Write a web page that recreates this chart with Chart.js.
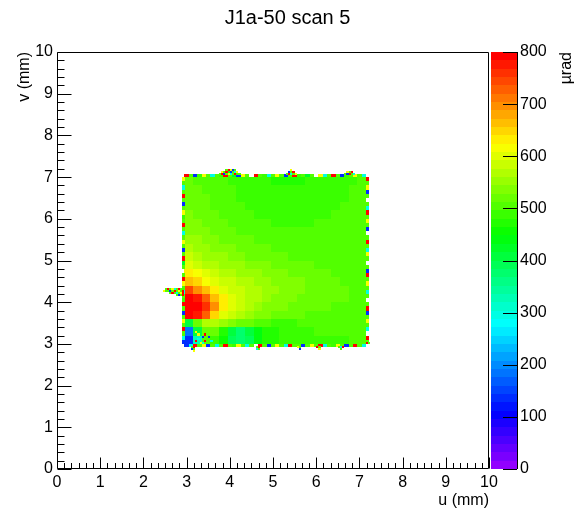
<!DOCTYPE html>
<html><head><meta charset="utf-8">
<script src="https://cdn.jsdelivr.net/npm/chart.js@4/dist/chart.umd.min.js"></script>
<style>html,body{margin:0;padding:0;background:#fff;overflow:hidden}</style>
</head><body>
<canvas id="c" width="575" height="522"></canvas>
<script>
// ---------- text ----------
const chartTitle = 'J1a-50 scan 5';
const xTitle = 'u (mm)';
const yTitle = 'v (mm)';
const zTitle = 'µrad';

// ---------- axes ----------
const xRange = [0, 10];
const yRange = [0, 10];
const zRange = [0, 800];
const zLevels = 50;

// ---------- main map (0.2 mm cells) ----------
const cellSize = 0.2;
const uCenters = [3.05,3.25,3.45,3.65,3.85,4.05,4.25,4.45,4.65,4.85,5.05,5.25,5.45,5.65,5.85,6.05,6.25,6.45,6.65,6.85,7.05];
const vCenters = [6.9,6.7,6.5,6.3,6.1,5.9,5.7,5.5,5.3,5.1,4.9,4.7,4.5,4.3,4.1,3.9,3.7,3.5,3.3,3.1];
const mapRows = [
  [514,511,507,503,499,495,491,487,484,481,479,478,478,479,481,483,486,488,491,494,497],
  [517,514,509,505,501,497,493,489,486,483,481,480,480,481,483,485,488,490,493,496,498],
  [520,517,512,508,503,499,495,491,488,486,484,483,483,484,486,488,490,492,495,497,499],
  [524,520,515,511,506,502,498,494,491,489,487,486,486,487,488,490,492,494,496,498,500],
  [529,525,519,515,510,505,501,498,495,493,491,490,490,490,491,493,495,497,498,500,501],
  [535,530,524,519,514,510,506,502,499,497,495,494,494,494,495,496,498,499,500,501,502],
  [542,536,530,525,520,515,511,507,504,502,500,499,498,498,498,499,500,501,502,503,503],
  [551,545,538,532,526,521,517,513,510,507,505,503,502,501,501,501,502,502,503,504,504],
  [562,555,547,541,535,529,524,520,516,513,510,508,506,505,504,504,504,504,504,505,505],
  [576,567,558,550,544,538,532,527,523,519,516,513,511,509,508,507,506,506,506,506,506],
  [596,583,572,563,556,550,545,540,535,531,527,523,519,516,513,511,509,508,507,507,507],
  [625,608,592,580,571,564,558,552,546,541,536,531,527,523,519,516,513,511,509,508,508],
  [668,642,617,600,587,578,570,562,555,549,543,538,533,528,523,519,516,513,511,510,509],
  [742,702,658,624,603,590,579,570,562,554,547,541,535,530,525,521,517,514,512,511,510],
  [790,776,724,664,624,600,585,572,561,551,543,536,530,525,521,518,515,513,512,511,510],
  [796,790,762,692,634,602,582,567,554,543,535,528,523,519,516,514,512,511,510,510,510],
  [786,772,724,654,607,580,562,549,538,530,523,518,514,512,511,510,510,510,509,509,509],
  [410,520,560,565,555,540,525,512,502,496,494,494,495,497,499,500,502,503,504,505,505],
  [190,400,520,518,470,400,375,400,440,465,478,486,490,493,495,496,497,498,499,500,500],
  [140,330,500,495,455,395,372,395,440,465,478,486,489,491,492,492,493,494,495,496,497]
];

// ---------- noisy border strips (0.1 mm steps, -1 = empty) ----------
const topFringe    = [790,500,130,480,620,500,290,500,480,790,500,430,130,620,500,-1,790,500,480,290,500,620,500,130,500,790,480,500,430,500,-1,620,290,500,790,500,130,480,500,620,500,290];
const bottomFringe = [130,290,790,500,620,130,500,290,500,790,500,480,620,500,290,500,-1,790,500,130,500,620,500,290,790,500,500,130,500,620,500,790,290,500,480,620,500,130,500,790,500,290];
const leftFringe   = [130,290,500,790,500,620,500,130,500,790,480,500,290,500,620,790,500,-1,500,430,790,500,130,500,620,500,290,500,790,500,480,620,500,130,500,790,500,290,500,620];
const rightFringe  = [500,790,-1,290,500,620,500,130,790,500,-1,500,290,500,620,500,790,130,500,-1,500,620,290,500,790,500,-1,130,500,620,500,790,290,500,-1,500,130,620,500,790];

// ---------- small noisy clusters (0.05 mm cells) ----------
const clusterU = [3.775,3.825,3.875,3.925,3.975,4.025,4.075,4.125,4.175,4.225, 3.825,3.875,3.925,3.975,4.025,4.075,4.125,4.175, 3.925,3.975,4.025,4.075,4.125,
  5.325,5.375,5.425,5.475,5.525,5.375,5.425,5.475,5.425,
  6.675,6.725,6.775,6.825,6.875,6.725,6.775,6.825,
  2.525,2.575,2.625,2.675,2.725,2.775,2.825,2.875,2.925,
  2.475,2.525,2.575,2.625,2.675,2.725,2.775,2.825,2.875,2.925,
  2.625,2.675,2.725,2.775,2.825,2.875,2.925,
  2.775,2.825,2.875,2.925,
  3.125,3.175,3.175,3.125,3.175,
  4.625,4.675,4.625,4.675, 5.575,5.625,5.625, 6.025,6.075,6.075, 6.525,6.575,6.625,6.575,
  7.175,7.225,7.175,
  3.225,3.275,3.325,3.375,3.425,3.475,3.275,3.375,3.525,3.225,3.425,3.575];
const clusterV = [7.075,7.075,7.075,7.075,7.075,7.075,7.075,7.075,7.075,7.075, 7.125,7.125,7.125,7.125,7.125,7.125,7.125,7.125, 7.175,7.175,7.175,7.175,7.175,
  7.075,7.075,7.075,7.075,7.075,7.125,7.125,7.125,7.175,
  7.075,7.075,7.075,7.075,7.075,7.125,7.125,7.125,
  4.325,4.325,4.325,4.325,4.325,4.325,4.325,4.325,4.325,
  4.275,4.275,4.275,4.275,4.275,4.275,4.275,4.275,4.275,4.275,
  4.225,4.225,4.225,4.225,4.225,4.225,4.225,
  4.175,4.175,4.175,4.175,
  2.925,2.925,2.875,2.875,2.825,
  2.925,2.925,2.875,2.875, 2.925,2.925,2.875, 2.925,2.925,2.875, 2.925,2.925,2.925,2.875,
  3.025,3.025,3.075,
  3.075,3.125,3.025,3.175,3.075,3.125,3.225,3.025,3.175,3.275,3.225,3.075];
const clusterVal = [500,790,130,500,620,290,500,790,480,500, 620,500,790,430,130,500,290,620, 500,790,620,130,500,
  500,790,290,500,620,130,500,790,620,
  500,130,790,500,290,620,500,790,
  500,790,500,620,290,500,790,500,480,
  620,500,500,130,500,790,500,620,500,790,
  500,790,500,290,500,620,790,
  500,130,500,790,
  500,790,500,130,620,
  500,790,290,500, 620,500,130, 790,500,620, 500,290,790,500,
  790,500,500,
  790,290,620,130,790,500,620,290,130,620,790,290];

// ---------- build cells for the chart ----------
const cells = [];
mapRows.forEach((row, r) => row.forEach((val, c) => cells.push({x: uCenters[c], y: vCenters[r], w: cellSize, h: cellSize, v: val})));
topFringe.forEach((val, k) => { if (val >= 0) cells.push({x: 3.0 + 0.1 * k, y: 7.03, w: 0.1, h: 0.07, v: val}); });
bottomFringe.forEach((val, k) => { if (val >= 0) cells.push({x: 3.0 + 0.1 * k, y: 2.97, w: 0.1, h: 0.07, v: val}); });
leftFringe.forEach((val, k) => { if (val >= 0) cells.push({x: 2.92, y: 3.05 + 0.1 * k, w: 0.07, h: 0.1, v: val}); });
rightFringe.forEach((val, k) => { if (val >= 0) cells.push({x: 7.18, y: 3.05 + 0.1 * k, w: 0.07, h: 0.1, v: val}); });
clusterU.forEach((u, k) => cells.push({x: u, y: clusterV[k], w: 0.05, h: 0.05, v: clusterVal[k]}));

// ROOT "pretty" palette: 50 HLS colours, violet -> red
function levelColor(i) { return 'hsl(' + (280 - (i + 1) * 280 / zLevels) + ',100%,50%)'; }
function colorFor(v) {
  const step = (zRange[1] - zRange[0]) / zLevels;
  let i = Math.floor((v - zRange[0]) / step);
  if (i > zLevels - 1) i = zLevels - 1;
  if (i < 0) i = 0;
  return levelColor(i);
}

const FONT = 'Liberation Sans, Arial, Helvetica, sans-serif';
Chart.defaults.font.family = FONT;
Chart.defaults.color = '#000';

const heatPlugin = {
  id: 'heat',
  beforeDatasetsDraw(chart) {
    const {ctx, chartArea: a, scales: {x, y}} = chart;
    ctx.save();
    ctx.beginPath(); ctx.rect(a.left, a.top, a.right - a.left, a.bottom - a.top); ctx.clip();
    for (const d of chart.data.datasets[0].data) {
      const x0 = Math.round(x.getPixelForValue(d.x - d.w / 2));
      const x1 = Math.round(x.getPixelForValue(d.x + d.w / 2));
      const y0 = Math.round(y.getPixelForValue(d.y + d.h / 2));
      const y1 = Math.round(y.getPixelForValue(d.y - d.h / 2));
      ctx.fillStyle = colorFor(d.v);
      ctx.fillRect(x0, y0, x1 - x0, y1 - y0);
    }
    ctx.restore();
  },
  afterDraw(chart) {
    const {ctx, chartArea: a, scales: {x, y, z}} = chart;
    ctx.save();
    ctx.strokeStyle = '#000'; ctx.lineWidth = 1;
    const L = Math.round(a.left) + 0.5, R = Math.round(a.right) - 0.5, T = Math.round(a.top) + 0.5, B = Math.round(a.bottom) - 0.5;
    ctx.beginPath();
    ctx.moveTo(L, T); ctx.lineTo(R, T); ctx.lineTo(R, B); ctx.lineTo(L, B); ctx.closePath();
    for (let k = 0; k <= 60; k++) {
      const px = Math.round(x.getPixelForValue(k / 6)) + 0.5;
      const len = (k % 6 === 0) ? 11 : 5.5;
      ctx.moveTo(px, B); ctx.lineTo(px, B - len);
    }
    for (let k = 0; k <= 50; k++) {
      const py = Math.round(y.getPixelForValue(k / 5)) + 0.5;
      const len = (k % 5 === 0) ? 14 : 7;
      ctx.moveTo(L, py); ctx.lineTo(L + len, py);
    }
    ctx.stroke();
    const cx0 = Math.round(a.right) + 2, cx1 = Math.round(a.right) + 28;
    const step = (zRange[1] - zRange[0]) / zLevels;
    for (let i = 0; i < zLevels; i++) {
      const ya = Math.round(z.getPixelForValue(zRange[0] + step * (i + 1)));
      const yb = Math.round(z.getPixelForValue(zRange[0] + step * i));
      ctx.fillStyle = levelColor(i);
      ctx.fillRect(cx0, ya, cx1 - cx0, yb - ya);
    }
    ctx.beginPath();
    ctx.moveTo(cx1 + 0.5, Math.round(a.top)); ctx.lineTo(cx1 + 0.5, Math.round(a.bottom));
    for (const t of z.ticks) {
      const py = Math.round(z.getPixelForValue(t.value)) + 0.5;
      ctx.moveTo(cx1, py); ctx.lineTo(cx1 - 14, py);
    }
    ctx.stroke();
    ctx.fillStyle = '#000';
    ctx.font = '16px ' + FONT;
    ctx.translate(567, Math.round(a.top));
    ctx.rotate(-Math.PI / 2);
    ctx.textAlign = 'right'; ctx.textBaseline = 'middle';
    ctx.fillText(zTitle, 0, 0);
    ctx.restore();
  }
};

new Chart(document.getElementById('c'), {
  type: 'scatter',
  data: { datasets: [{ data: cells, pointRadius: 0, pointHoverRadius: 0 }] },
  options: {
    responsive: false,
    animation: false,
    devicePixelRatio: 1,
    events: [],
    layout: { padding: 0 },
    plugins: {
      legend: { display: false },
      tooltip: { enabled: false },
      title: { display: true, text: chartTitle, font: { size: 20, weight: 'normal', family: FONT }, color: '#000', padding: { top: 6, bottom: 22 } }
    },
    scales: {
      x: {
        type: 'linear', position: 'bottom', min: xRange[0], max: xRange[1],
        afterFit(s) { s.height = 53; },
        grid: { display: false, drawTicks: false }, border: { display: false },
        ticks: { stepSize: 1, font: { size: 16 }, color: '#000', padding: 4, maxRotation: 0, autoSkip: false },
        title: { display: true, text: xTitle, align: 'end', font: { size: 16 }, color: '#000', padding: { top: 0, bottom: 12 } }
      },
      y: {
        type: 'linear', position: 'left', min: yRange[0], max: yRange[1],
        afterFit(s) { s.width = 57; },
        grid: { display: false, drawTicks: false }, border: { display: false },
        ticks: { stepSize: 1, font: { size: 16 }, color: '#000', padding: 4, autoSkip: false },
        title: { display: true, text: yTitle, align: 'end', font: { size: 16 }, color: '#000', padding: { top: 15, bottom: 0 } }
      },
      z: {
        type: 'linear', axis: 'y', position: 'right', min: zRange[0], max: zRange[1],
        afterFit(s) { s.width = 86; },
        grid: { display: false, drawTicks: false }, border: { display: false },
        ticks: { stepSize: 100, font: { size: 16 }, color: '#000', padding: 31, autoSkip: false }
      }
    }
  },
  plugins: [heatPlugin]
});
</script>
</body></html>
